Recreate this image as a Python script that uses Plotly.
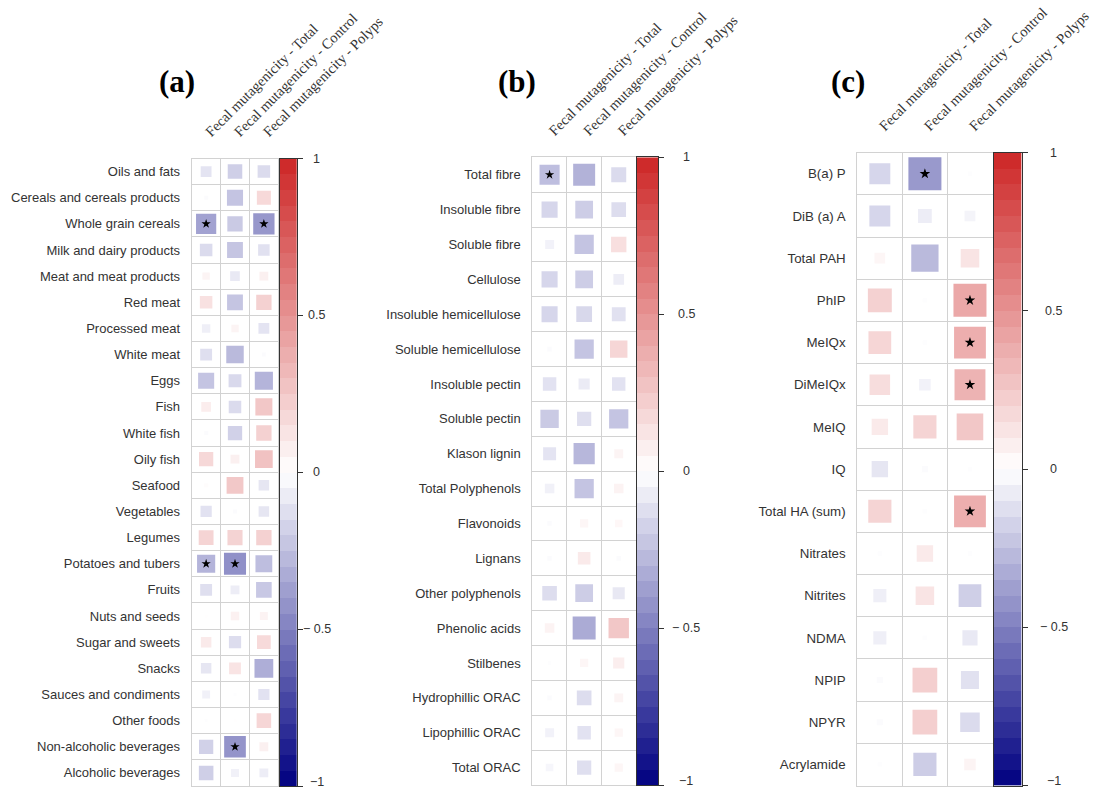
import numpy as np
import plotly.graph_objects as go

W, H = 1100, 791

columns = ["Fecal mutagenicity - Total", "Fecal mutagenicity - Control", "Fecal mutagenicity - Polyps"]

# ---------------- Panel (a): food groups ----------------
a_rows = ["Oils and fats", "Cereals and cereals products", "Whole grain cereals", "Milk and dairy products",
          "Meat and meat products", "Red meat", "Processed meat", "White meat", "Eggs", "Fish", "White fish",
          "Oily fish", "Seafood", "Vegetables", "Legumes", "Potatoes and tubers", "Fruits", "Nuts and seeds",
          "Sugar and sweets", "Snacks", "Sauces and condiments", "Other foods", "Non-alcoholic beverages",
          "Alcoholic beverages"]
a_total = [-0.15, -0.02, -0.52, -0.20, 0.07, 0.20, -0.09, -0.18, -0.33, 0.12, -0.02, 0.26, 0.02, -0.16,
           0.28, -0.42, -0.18, 0.01, 0.14, -0.14, -0.08, -0.01, -0.26, -0.27]
a_control = [-0.27, -0.33, -0.30, -0.32, -0.12, -0.32, 0.07, -0.39, -0.21, -0.20, -0.26, 0.10, 0.36, -0.02,
             0.29, -0.62, -0.10, 0.09, -0.19, 0.18, -0.01, 0.01, -0.60, -0.08]
a_polyps = [-0.20, 0.25, -0.58, -0.17, 0.10, 0.30, -0.15, -0.02, -0.42, 0.37, 0.30, 0.40, -0.14, -0.14,
            0.30, -0.36, -0.31, 0.08, 0.24, -0.45, -0.16, 0.27, 0.10, -0.10]
a_sig_total = [0, 0, 1, 0, 0, 0, 0, 0, 0, 0, 0, 0, 0, 0, 0, 1, 0, 0, 0, 0, 0, 0, 0, 0]
a_sig_control = [0, 0, 0, 0, 0, 0, 0, 0, 0, 0, 0, 0, 0, 0, 0, 1, 0, 0, 0, 0, 0, 0, 1, 0]
a_sig_polyps = [0, 0, 1, 0, 0, 0, 0, 0, 0, 0, 0, 0, 0, 0, 0, 0, 0, 0, 0, 0, 0, 0, 0, 0]

# ---------------- Panel (b): fibre and polyphenols ----------------
b_rows = ["Total fibre", "Insoluble fibre", "Soluble fibre", "Cellulose", "Insoluble hemicellulose",
          "Soluble hemicellulose", "Insoluble pectin", "Soluble pectin", "Klason lignin", "Total Polyphenols",
          "Flavonoids", "Lignans", "Other polyphenols", "Phenolic acids", "Stilbenes", "Hydrophillic ORAC",
          "Lipophillic ORAC", "Total ORAC"]
b_total = [-0.36, -0.23, -0.07, -0.23, -0.23, -0.02, -0.16, -0.30, -0.15, -0.08, -0.02, -0.02, -0.19, 0.08,
           -0.01, -0.02, -0.07, -0.05]
b_control = [-0.43, -0.28, -0.33, -0.28, -0.22, -0.33, -0.11, -0.18, -0.40, -0.33, 0.06, 0.14, -0.28, -0.47,
             0.06, -0.19, -0.16, -0.18]
b_polyps = [-0.20, -0.19, 0.21, -0.10, -0.17, 0.27, -0.16, -0.33, 0.07, 0.08, 0.05, -0.02, -0.13, 0.37,
            0.11, 0.07, 0.06, 0.06]
b_sig_total = [1] + [0] * 17
b_sig_control = [0] * 18
b_sig_polyps = [0] * 18

# ---------------- Panel (c): PAH, HA, N-nitroso, acrylamide ----------------
c_rows = ["B(a) P", "DiB (a) A", "Total PAH", "PhIP", "MeIQx", "DiMeIQx", "MeIQ", "IQ", "Total HA (sum)",
          "Nitrates", "Nitrites", "NDMA", "NPIP", "NPYR", "Acrylamide"]
c_total = [-0.23, -0.23, 0.06, 0.30, 0.27, 0.22, 0.14, -0.14, 0.28, -0.01, -0.09, -0.09, -0.02, -0.02, -0.01]
c_control = [-0.57, -0.10, -0.39, -0.01, -0.01, -0.07, 0.28, -0.02, -0.01, 0.14, 0.18, -0.01, 0.32, 0.32, -0.28]
c_polyps = [-0.01, -0.06, 0.18, 0.57, 0.53, 0.50, 0.37, -0.01, 0.53, -0.01, -0.27, -0.12, -0.17, -0.20, 0.07]
c_sig_total = [0] * 15
c_sig_control = [1] + [0] * 14
c_sig_polyps = [0, 0, 0, 1, 1, 1, 0, 0, 1, 0, 0, 0, 0, 0, 0]

colorbar_ticks = [1, 0.5, 0, -0.5, -1]
colorbar_ticktext = ["1", "0.5", "0", "\u2212 0.5", "\u22121"]

colorscale = [[0.0, "#000080"], [0.5, "#FFFFFF"], [1.0, "#CD2626"]]


def px_x(p):
    return p / W


def px_y(p):
    return 1 - p / H


panels = [
    dict(label="(a)", rows=a_rows, vals=[a_total, a_control, a_polyps],
         sig=[a_sig_total, a_sig_control, a_sig_polyps],
         grid_x=(191.7, 278.3), grid_y=(158.5, 786.0), cb_x=(280.0, 296.7),
         tick_x=316.5, label_xy=(176.7, 81.5), font=13, star=7),
    dict(label="(b)", rows=b_rows, vals=[b_total, b_control, b_polyps],
         sig=[b_sig_total, b_sig_control, b_sig_polyps],
         grid_x=(532.3, 636.0), grid_y=(157.3, 785.0), cb_x=(636.5, 658.0),
         tick_x=686.0, label_xy=(516.5, 81.0), font=13, star=7),
    dict(label="(c)", rows=c_rows, vals=[c_total, c_control, c_polyps],
         sig=[c_sig_total, c_sig_control, c_sig_polyps],
         grid_x=(857.3, 992.5), grid_y=(152.7, 785.5), cb_x=(993.5, 1021.7),
         tick_x=1053.5, label_xy=(847.5, 82.0), font=13.3, star=8),
]

fig = go.Figure()
annotations = []
layout_axes = {}

grid_color = "#D2D2D2"
text_color = "#333333"

band_n = 40
band_centers = np.linspace(-1 + 1 / band_n, 1 - 1 / band_n, band_n)

for i, p in enumerate(panels):
    k = i + 1
    sx = "" if k == 1 else str(k)
    xa, ya = "x" + sx, "y" + sx
    n = len(p["rows"])
    cell_w = (p["grid_x"][1] - p["grid_x"][0]) / 3

    xs, ys, cs, ss = [], [], [], []
    stx, sty = [], []
    for j in range(3):
        for r in range(n):
            v = p["vals"][j][r]
            xs.append(j)
            ys.append(r)
            cs.append(v)
            ss.append(np.sqrt(abs(v)) * cell_w * 0.97)
            if p["sig"][j][r]:
                stx.append(j)
                sty.append(r)

    fig.add_trace(go.Scatter(
        x=xs, y=ys, mode="markers", xaxis=xa, yaxis=ya, hoverinfo="skip",
        marker=dict(symbol="square", size=ss, color=cs, cmin=-1, cmax=1,
                    colorscale=colorscale, showscale=False, line=dict(width=0)),
        showlegend=False))
    fig.add_trace(go.Scatter(
        x=stx, y=sty, mode="markers", xaxis=xa, yaxis=ya, hoverinfo="skip",
        marker=dict(symbol="star", size=p["star"], color="black", line=dict(width=0)),
        showlegend=False))

    layout_axes["xaxis" + sx] = dict(
        domain=[px_x(p["grid_x"][0]), px_x(p["grid_x"][1])], range=[-0.5, 2.5],
        anchor=ya, side="top", tickmode="array", tickvals=[0, 1, 2], ticktext=columns,
        tickangle=-45, ticks="", ticklabelstandoff=12, automargin=False,
        tickfont=dict(family="Liberation Serif", size=14.5, color=text_color),
        showgrid=False, zeroline=False, showline=True, mirror=True,
        linecolor=grid_color, linewidth=1,
        minor=dict(tickmode="linear", tick0=0.5, dtick=1, showgrid=True,
                   gridcolor=grid_color, gridwidth=1, ticks=""),
        fixedrange=True)
    layout_axes["yaxis" + sx] = dict(
        domain=[px_y(p["grid_y"][1]), px_y(p["grid_y"][0])], range=[n - 0.5, -0.5],
        anchor=xa, tickmode="array", tickvals=list(range(n)), ticktext=p["rows"],
        ticks="", ticklabelstandoff=8, automargin=False,
        tickfont=dict(family="Liberation Sans", size=p["font"], color=text_color),
        showgrid=False, zeroline=False, showline=True, mirror=True,
        linecolor=grid_color, linewidth=1,
        minor=dict(tickmode="linear", tick0=0.5, dtick=1, showgrid=True,
                   gridcolor=grid_color, gridwidth=1, ticks=""),
        fixedrange=True)

    # colour bar (drawn as a banded heatmap on its own axes)
    kc = k + 3
    cx, cy = "x" + str(kc), "y" + str(kc)
    fig.add_trace(go.Heatmap(
        x=[0], y=band_centers, z=[[v] for v in band_centers], zmin=-1, zmax=1,
        colorscale=colorscale, showscale=False, xaxis=cx, yaxis=cy, hoverinfo="skip"))
    layout_axes["xaxis" + str(kc)] = dict(
        domain=[px_x(p["cb_x"][0]), px_x(p["cb_x"][1])], range=[-0.5, 0.5], anchor=cy,
        showticklabels=False, ticks="", showgrid=False, zeroline=False, automargin=False,
        showline=True, mirror=True, linecolor="#333333", linewidth=1, fixedrange=True)
    layout_axes["yaxis" + str(kc)] = dict(
        domain=[px_y(p["grid_y"][1]), px_y(p["grid_y"][0])], range=[-1, 1], anchor=cx,
        side="right", tickmode="array", tickvals=colorbar_ticks, ticks="outside",
        ticklen=5, tickcolor="#333333", showticklabels=False, showgrid=False, automargin=False,
        zeroline=False, showline=True, mirror=True, linecolor="#333333", linewidth=1,
        fixedrange=True)
    for tv, tt in zip(colorbar_ticks, colorbar_ticktext):
        annotations.append(dict(
            x=px_x(p["tick_x"]), xref="paper", y=tv, yref=cy, text=tt, showarrow=False,
            xanchor="center", yanchor="middle", yshift=(4 if tv == -1 else 0),
            font=dict(family="Liberation Sans", size=12.5, color=text_color)))

    annotations.append(dict(
        x=px_x(p["label_xy"][0]), y=px_y(p["label_xy"][1]), xref="paper", yref="paper",
        text="<b>" + p["label"] + "</b>", showarrow=False, xanchor="center", yanchor="middle",
        font=dict(family="Liberation Serif", size=31, color="black")))

fig.update_layout(
    width=W, height=H, margin=dict(l=0, r=0, t=0, b=0),
    paper_bgcolor="white", plot_bgcolor="white",
    annotations=annotations, showlegend=False, **layout_axes)

fig.write_html(
    "out.html",
    config={"displayModeBar": False},
    post_script="document.body.style.margin='0px';document.body.style.overflow='hidden';")
